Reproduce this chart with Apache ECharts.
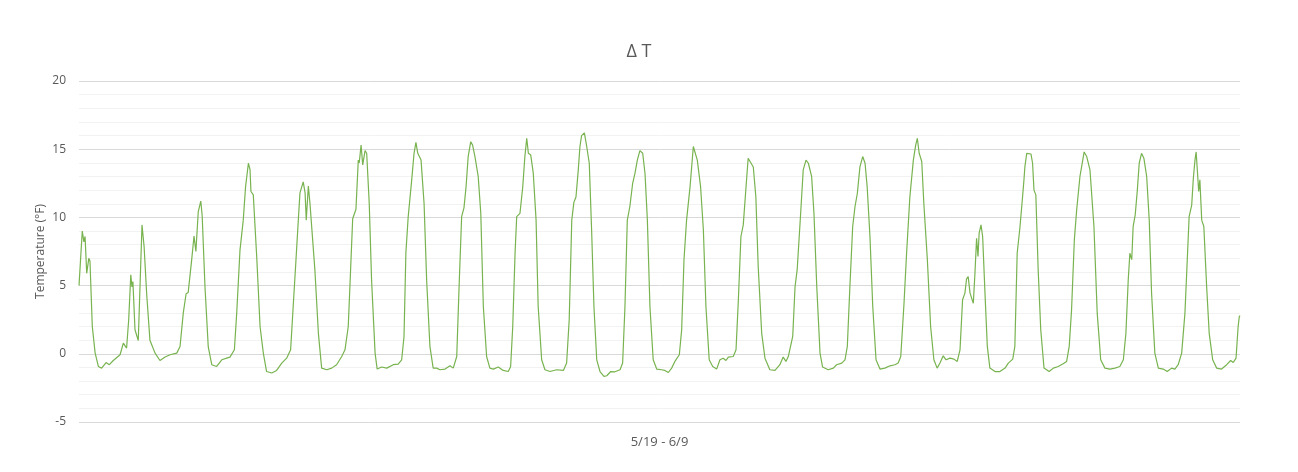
<!DOCTYPE html>
<html>
<head>
<meta charset="utf-8">
<script src="https://cdn.jsdelivr.net/npm/echarts@6/dist/echarts.min.js"></script>
<style>html,body{margin:0;padding:0;background:#fff;}#c{width:1298px;height:472px;}</style>
</head>
<body>
<div id="c"></div>
<script>
const titleText = "\u0394 T";
const xAxisName = "5/19 - 6/9";
const yAxisName = "Temperature (\u00B0F)";
const yTicks = [-5, 0, 5, 10, 15, 20];

// hours since start of 5/19
const hours = [
0,1.4,2.1,2.6,3.3,4.2,4.7,5.7,6.9,8.3,9.7,11.6,13.0,14.7,17.6,19.0,20.4,21.3,22.2,22.7,23.1,24.0,25.4,27.0,27.9,29.0,30.4,32.6,34.7,36.9,39.0,41.9,43.3,44.7,45.9,46.8,47.6,48.3,49.3,50.1,51.1,52.2,52.8,54.0,55.4,56.9,59.0,61.2,63.3,64.7,66.6,67.6,69.0,70.4,71.4,72.6,73.3,73.7,74.7,76.2,77.6,79.0,
80.4,82.6,84.7,86.9,89.0,90.7,91.8,93.0,94.0,94.7,95.4,96.1,96.9,97.4,98.3,99.0,99.7,101.1,102.6,104.0,106.2,108.3,110.4,112.6,114.0,115.4,116.4,117.3,118.7,119.7,120.1,120.9,121.6,122.6,123.3,124.4,125.4,126.9,127.8,129.7,131.9,134.7,136.8,138.3,139.3,140.1,141.1,142.6,143.6,144.4,145.2,146.6,147.9,149.0,150.4,151.8,153.3,154.7,156.9,159.0,160.4,161.9,
162.9,164.0,165.0,165.9,166.8,167.9,168.7,169.7,171.1,172.2,173.3,174.7,176.1,177.6,179.7,181.8,184.0,185.0,185.9,186.9,187.6,189.0,190.2,191.1,191.9,192.6,193.6,194.7,195.9,196.8,198.3,199.7,201.9,204.7,207.6,209.0,210.1,211.2,212.1,213.0,214.0,214.7,215.4,216.1,216.6,217.2,217.6,218.7,219.7,220.7,221.9,223.3,225.0,226.2,227.9,229.7,231.9,233.0,
234.0,235.0,236.1,237.3,238.3,239.3,240.4,241.6,242.6,243.6,244.7,246.1,247.6,249.7,251.1,252.6,254.0,255.4,257.3,258.3,259.3,260.4,261.9,263.3,264.0,265.0,266.4,267.6,268.7,270.1,271.6,273.3,274.7,276.1,277.3,278.3,280.4,281.6,282.6,283.7,284.7,285.9,286.8,287.6,289.0,290.1,291.1,292.6,294.0,296.1,298.3,300.4,301.8,303.0,304.0,305.9,306.9,307.8,308.6,309.3,310.4,311.6,312.6,314.0,315.0,316.2,317.6,318.7,321.1,323.3,324.7,325.4,326.9,328.3,
329.3,330.4,331.6,332.6,333.6,334.7,335.9,336.9,337.8,339.0,340.2,341.6,343.3,345.4,347.6,349.7,351.1,352.2,353.6,354.7,356.1,357.6,358.6,359.3,360.1,361.2,362.1,363.6,365.0,366.4,367.8,369.0,370.4,371.6,373.3,375.0,376.4,377.6,378.7,379.7,380.4,381.1,381.9,382.6,383.3,384.0,384.7,385.3,385.8,386.6,387.3,388.3,389.3,390.4,392.6,394.7,396.9,398.3,400.2,
401.1,402.1,403.3,404.4,405.0,405.4,406.2,406.8,408.0,408.7,409.3,410.1,411.1,412.2,413.6,415.8,417.6,419.7,421.8,423.3,424.4,425.4,426.6,427.6,429.0,430.2,430.8,431.9,433.3,435.0,436.4,437.9,439.7,441.9,444.0,446.1,447.6,448.7,449.7,450.4,451.2,451.8,452.7,453.6,454.4,455.4,456.4,457.6,458.7,459.7,461.1,462.6,464.7,466.4,468.3,469.7,471.1,472.6,474.0,475.0,475.8,476.9,477.6,478.3,478.8,479.4,479.9,480.4,481.2,482.1,483.3,484.4,485.9,487.6,489.7,491.9,493.6,494.7,495.9,496.8,497.3,497.6
];

// temperature difference, °F
const deltaT = [
5.0,9.0,8.2,8.6,5.9,7.0,6.8,2.0,0.07,-0.93,-1.05,-0.64,-0.8,-0.49,-0.07,0.78,0.42,2.5,5.8,4.9,5.3,1.76,0.97,9.45,7.86,4.4,1.0,0.05,-0.49,-0.24,-0.07,0.05,0.54,3.0,4.4,4.5,4.6,6.9,8.64,7.5,10.4,11.2,10.1,4.9,0.5,-0.8,-0.93,-0.44,-0.32,-0.24,0.3,3.0,7.6,9.8,12.26,13.97,13.5,11.9,11.65,7.0,2.0,0.05,
-1.3,-1.41,-1.22,-0.68,-0.32,0.29,3.47,6.9,9.8,11.8,11.9,12.6,11.8,9.8,12.3,11.0,10.9,6.15,1.5,-1.05,-1.17,-1.05,-0.8,-0.2,0.29,2.0,6.15,9.9,10.6,14.2,14.0,15.3,13.85,14.9,14.7,11.0,5.4,0.05,-1.12,-0.97,-1.05,-0.8,-0.76,-0.44,1.27,7.4,10.06,12.75,14.7,15.5,14.7,14.2,11.0,5.4,0.54,-1.05,-1.05,-1.17,-1.12,-0.88,-1.05,-0.2,
4.9,10.06,10.7,12.26,14.46,15.55,15.3,14.46,13.0,10.3,3.47,-0.2,-1.05,-1.12,-0.97,-1.22,-1.3,-0.93,2.0,7.4,10.06,10.3,12.26,14.46,15.8,14.7,14.58,13.24,9.8,3.47,-0.44,-1.17,-1.3,-1.17,-1.22,-0.68,2.5,9.8,11.1,11.5,13.5,15.2,16.0,15.9,16.2,16.2,15.2,13.97,9.1,3.47,-0.44,-1.3,-1.66,-1.61,-1.3,-1.32,-1.17,-0.68,
3.47,9.8,10.8,12.5,13.24,14.2,14.9,14.7,13.2,9.8,3.47,-0.44,-1.12,-1.17,-1.22,-1.37,-1.05,-0.56,-0.07,1.76,6.9,9.8,12.26,15.2,15.24,14.2,12.26,9.1,3.47,-0.44,-0.93,-1.12,-0.44,-0.32,-0.49,-0.24,-0.2,0.29,3.96,8.6,9.45,12.26,14.34,14.46,13.7,11.5,6.4,1.5,-0.32,-1.17,-1.22,-0.8,-0.24,-0.56,-0.2,1.27,4.93,6.15,6.03,10.3,13.48,14.2,13.97,13.0,10.3,4.93,0.05,-0.97,-1.17,-1.05,-0.8,-0.88,-0.68,-0.44,
0.54,4.93,9.33,10.8,11.77,13.7,14.46,13.97,12.26,8.6,3.47,-0.44,-1.12,-1.05,-0.88,-0.8,-0.68,-0.2,3.7,7.37,11.5,14.2,15.3,15.8,14.7,14.1,11.0,6.9,2.0,-0.44,-1.05,-0.68,-0.15,-0.44,-0.32,-0.39,-0.56,0.29,3.96,4.45,5.5,5.66,4.45,4.57,3.7,5.9,8.47,7.13,8.84,9.45,8.6,4.45,0.54,-1.05,-1.3,-1.3,-1.05,-0.68,-0.39,
0.54,7.37,9.3,11.5,12.75,13.7,14.7,14.65,14.65,13.97,12.0,11.65,6.15,1.76,-1.05,-1.3,-1.05,-0.93,-0.73,-0.56,0.54,3.2,8.35,10.55,13.0,14.2,14.8,14.46,13.48,9.33,2.98,-0.44,-1.05,-1.12,-1.05,-0.93,-0.44,1.5,5.42,7.37,6.9,9.33,10.2,12.0,13.97,14.7,14.34,13.0,9.8,4.45,0.05,-1.05,-1.12,-1.3,-1.05,-1.12,-0.8,0.05,2.98,6.9,10.06,10.9,12.87,14.2,14.8,13.24,11.9,12.75,9.8,9.33,4.93,1.5,-0.44,-1.05,-1.12,-0.8,-0.49,-0.64,-0.32,2.0,2.73,2.8
];

const seriesData = hours.map((h, i) => [h, deltaT[i]]);
const chart = echarts.init(document.getElementById('c'), null, {renderer: 'canvas'});
const font = "'Open Sans', 'Liberation Sans', sans-serif";
chart.setOption({
  animation: false,
  backgroundColor: '#ffffff',
  title: {
    text: titleText,
    left: 634, top: 38, textAlign: 'center',
    textStyle: {fontFamily: font, fontSize: 18, fontWeight: 'normal', color: '#595959'}
  },
  grid: {left: 79, right: 58, top: 81, bottom: 50, containLabel: false},
  xAxis: {
    type: 'value', min: 0, max: hours[hours.length - 1],
    name: xAxisName, nameLocation: 'middle', nameGap: 14,
    nameTextStyle: {fontFamily: font, fontSize: 13, color: '#595959'},
    axisLine: {show: false}, axisTick: {show: false}, axisLabel: {show: false},
    splitLine: {show: false}
  },
  yAxis: {
    type: 'value', min: yTicks[0], max: yTicks[yTicks.length - 1], interval: 5,
    name: yAxisName, nameLocation: 'middle', nameGap: 32, nameRotate: 90,
    nameMoveOverlap: false,
    nameTextStyle: {fontFamily: font, fontSize: 12, color: '#595959'},
    axisLine: {show: false}, axisTick: {show: false},
    axisLabel: {fontFamily: font, fontSize: 12, color: '#595959', margin: 13},
    splitLine: {lineStyle: {color: '#d9d9d9', width: 1}},
    minorTick: {show: false, splitNumber: 5},
    minorSplitLine: {show: true, lineStyle: {color: '#f2f2f2', width: 1}}
  },
  series: [{
    type: 'line', data: seriesData, showSymbol: false, symbol: 'none',
    lineStyle: {color: '#78b350', width: 1.2}, itemStyle: {color: '#78b350'}
  }]
});
</script>
</body>
</html>
